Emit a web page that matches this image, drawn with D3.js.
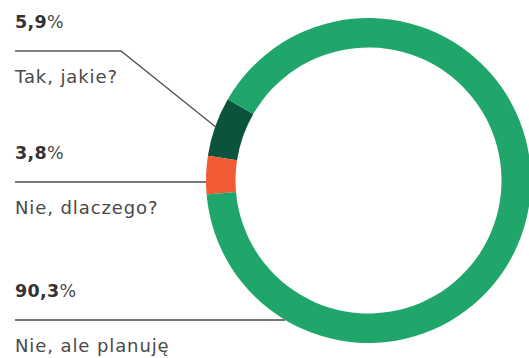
<!DOCTYPE html>
<html>
<head>
<meta charset="utf-8">
<script src="https://cdn.jsdelivr.net/npm/d3@7"></script>
<style>
  html, body { margin: 0; padding: 0; background: #fff; }
  svg { display: block; }
</style>
</head>
<body>
<svg id="chart" width="529" height="358"></svg>
<script>
// Survey answers, in the order they run counter-clockwise round the ring
const answers = ["Tak, jakie?", "Nie, dlaczego?", "Nie, ale planuję"];
const shares = [5.9, 3.8, 90.3];
const shareLabels = ["5,9", "3,8", "90,3"];
const colors = ["#0b533d", "#f05b33", "#20a66b"];

const svg = d3.select("#chart");
const cx = 368.5, cy = 180.5, rOuter = 162.5, rInner = 133;

// Ring starts at 300° and runs counter-clockwise
const pie = d3.pie().sort(null).value(d => d)
  .startAngle(5 * Math.PI / 3)
  .endAngle(5 * Math.PI / 3 - 2 * Math.PI);
const arcs = pie(shares);
const arc = d3.arc().innerRadius(rInner).outerRadius(rOuter);

const ring = svg.append("g").attr("transform", `translate(${cx},${cy})`);
ring.selectAll("path").data(arcs).join("path")
  .attr("d", arc)
  .attr("fill", (d, i) => colors[i]);

// Label blocks: value above a rule, answer below it
const blockY = d3.scaleOrdinal().domain(answers).range([51, 182, 320]);
const textX = 15;
const fontFam = "'DejaVu Sans', sans-serif";

const g = svg.append("g");
answers.forEach((a, i) => {
  const ly = blockY(a);
  const t = g.append("text")
    .attr("x", textX).attr("y", ly - 23)
    .attr("font-family", fontFam).attr("font-size", 17.5)
    .attr("letter-spacing", 0.3)
    .attr("fill", "#333");
  t.append("tspan").attr("font-weight", "bold").text(shareLabels[i]);
  t.append("tspan").attr("fill", "#4a4a4a").text("%");

  g.append("text")
    .attr("x", textX).attr("y", ly + 32)
    .attr("font-family", fontFam).attr("font-size", 18)
    .attr("letter-spacing", 0.9)
    .attr("fill", "#4a4a4a")
    .text(a);
});

// Leader lines
const outerX = y => cx - Math.sqrt(rOuter * rOuter - (y - cy) * (y - cy));
const first = arcs[0];
const mid = (first.startAngle + first.endAngle) / 2;
const [mx, my] = [cx + rOuter * Math.sin(mid), cy - rOuter * Math.cos(mid)];
const line = d3.line();
g.append("path")
  .attr("d", line([[textX, blockY(answers[0])], [121, blockY(answers[0])], [mx, my]]))
  .attr("fill", "none").attr("stroke", "#555").attr("stroke-width", 1.4);
[1, 2].forEach(i => {
  const y = blockY(answers[i]);
  g.append("path")
    .attr("d", line([[textX, y], [outerX(y), y]]))
    .attr("fill", "none").attr("stroke", "#777").attr("stroke-width", 2);
});
</script>
</body>
</html>
